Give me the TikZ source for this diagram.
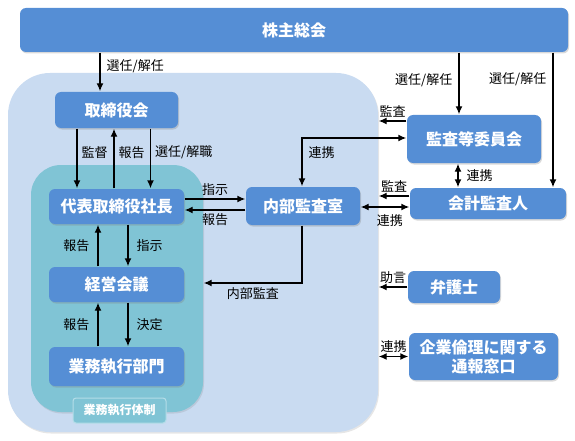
\documentclass[tikz,border=0pt]{standalone}
\usepackage{fontspec}
\setmainfont{Noto Sans CJK JP}
\usetikzlibrary{arrows.meta,shadows}
\definecolor{boxblue}{HTML}{558ED5}
\definecolor{areablue}{HTML}{C9DBF1}
\definecolor{areateal}{HTML}{80C4D5}
\definecolor{tagline}{HTML}{B4DDE8}
\tikzset{
  orgnode/.style = {align=center, inner sep=0pt, text centered,
    font=\bfseries\fontsize{16}{19}\selectfont},
  org_box/.style = {orgnode, rectangle, rounded corners=6pt, fill=boxblue, text=white,
    drop shadow={shadow xshift=1pt, shadow yshift=-1.5pt, opacity=.3}},% blue box
  org_area/.style = {rectangle, inner sep=0pt,
    drop shadow={shadow xshift=1pt, shadow yshift=-1.5pt, opacity=.2}},% background area
  org_tag/.style = {orgnode, rectangle, rounded corners=3pt, fill=areateal, draw=tagline,
    line width=1pt, text=white, font=\bfseries\fontsize{12}{14}\selectfont,
    minimum width=93pt, minimum height=25pt},% area caption
  org_lbl/.style = {inner sep=2pt, font=\fontsize{13}{15}\selectfont}% connector label
}
\begin{document}
\begin{tikzpicture}[x=1pt,y=-1pt,>={Latex[length=8pt,width=7pt]},line width=1.4pt]
  \useasboundingbox (0,0) rectangle (575,441);
  \node [org_area, fill=areablue, minimum width=370pt, minimum height=359pt,
    rounded corners=42pt] (outer) at (193,252.5) {};
  \node [org_area, fill=areateal, minimum width=172pt, minimum height=247pt,
    rounded corners=30pt] (taisei) at (117,288.5) {};
  \node [org_tag] (taisei_tag) at (119.5,410.5) {業務執行体制};

  \node [org_box, minimum width=548pt, minimum height=44pt] (soukai) at (294,30) {株主総会};
  \node [org_box, minimum width=123pt, minimum height=36pt] (torishimari) at (116.5,110) {取締役会};
  \node [org_box, minimum width=135pt, minimum height=35pt] (daihyo) at (116.5,206.5) {代表取締役社長};
  \node [org_box, minimum width=135pt, minimum height=35pt] (keiei) at (116.5,284.5) {経営会議};
  \node [org_box, minimum width=135pt, minimum height=39pt] (gyomu) at (116.5,366.5) {業務執行部門};
  \node [org_box, minimum width=114pt, minimum height=38pt] (naibu) at (303,206) {内部監査室};
  \node [org_box, minimum width=134pt, minimum height=48pt] (kansa) at (474,139) {監査等委員会};
  \node [org_box, minimum width=156pt, minimum height=31pt] (kaikei) at (488,203.5) {会計監査人};
  \node [org_box, minimum width=92pt, minimum height=32pt] (bengo) at (454,287) {弁護士};
  \node [org_box, minimum width=149pt, minimum height=47pt] (tsuho) at (483.5,356.5) {企業倫理に関する\\通報窓口};

  % 株主総会から
  \draw [->] ([xshift=-16.5pt]torishimari.north |- soukai.south) -- ([xshift=-16.5pt]torishimari.north)
    node [org_lbl, pos=.35, right=4pt] (l_sen1) {選任/解任};
  \draw [->] ([xshift=-15pt]kansa.north |- soukai.south) -- ([xshift=-15pt]kansa.north)
    node [org_lbl, pos=.44, left=4pt] (l_sen2) {選任/解任};
  \draw [->] ([xshift=65pt]kaikei.north |- soukai.south) -- ([xshift=65pt]kaikei.north)
    node [org_lbl, pos=.2, left=4pt] (l_sen3) {選任/解任};

  % 取締役会と代表取締役社長
  \draw [->] ([xshift=-39.5pt]torishimari.south) -- ([xshift=-39.5pt]torishimari.south |- daihyo.north)
    node [org_lbl, pos=.4, right=2pt] (l_kantoku) {監督};
  \draw [->] ([xshift=-2.5pt]daihyo.north) -- ([xshift=-2.5pt]daihyo.north |- torishimari.south)
    node [org_lbl, pos=.6, right=2pt] (l_hok1) {報告};
  \draw [->] ([xshift=34pt]torishimari.south) -- ([xshift=34pt]torishimari.south |- daihyo.north)
    node [org_lbl, pos=.4, right=2pt] (l_kaishoku) {選任/解職};

  % 代表取締役社長と内部監査室
  \draw [->] ([yshift=7.5pt]daihyo.east) -- ([yshift=7.5pt]daihyo.east -| naibu.west)
    node [org_lbl, midway, above=1pt] (l_shiji1) {指示};
  \draw [->] ([yshift=-4pt]naibu.west) -- ([yshift=-4pt]naibu.west -| daihyo.east)
    node [org_lbl, midway, below=1pt] (l_hok2) {報告};

  % 業務執行体制の中
  \draw [->] ([xshift=11.5pt]daihyo.south) -- ([xshift=11.5pt]daihyo.south |- keiei.north)
    node [org_lbl, midway, right=6pt] (l_shiji2) {指示};
  \draw [->] ([xshift=-18.5pt]keiei.north) -- ([xshift=-18.5pt]keiei.north |- daihyo.south)
    node [org_lbl, midway, left=6pt] (l_hok3) {報告};
  \draw [->] ([xshift=11.5pt]keiei.south) -- ([xshift=11.5pt]keiei.south |- gyomu.north)
    node [org_lbl, midway, right=6pt] (l_kettei) {決定};
  \draw [->] ([xshift=-18.5pt]gyomu.north) -- ([xshift=-18.5pt]gyomu.north |- keiei.south)
    node [org_lbl, midway, left=6pt] (l_hok4) {報告};

  % 内部監査
  \draw [->] ([xshift=-1pt]naibu.south) |- ([yshift=5.5pt]taisei.east)
    node [org_lbl, pos=.75, below=2pt] (l_naibu) {内部監査};
  \draw [<->] ([yshift=1pt]kansa.west) -| ([xshift=-1pt]naibu.north)
    node [org_lbl, pos=.65, right=4pt] (l_renkei1) {連携};

  % 外部との関係
  \draw [->] ([yshift=18pt]kansa.west) -- ([yshift=18pt]kansa.west -| outer.east)
    node [org_lbl, midway, above=1pt] (l_kansa1) {監査};
  \draw [<->] ([xshift=-16pt]kansa.south) -- ([xshift=-16pt]kansa.south |- kaikei.north)
    node [org_lbl, midway, right=6pt] (l_renkei2) {連携};
  \draw [->] ([yshift=7.5pt]kaikei.west) -- ([yshift=7.5pt]kaikei.west -| outer.east)
    node [org_lbl, midway, above=1pt] (l_kansa2) {監査};
  \draw [<->] ([yshift=-3.5pt]kaikei.west -| naibu.east) -- ([yshift=-3.5pt]kaikei.west)
    node [org_lbl, pos=.6, below=5pt] (l_renkei3) {連携};
  \draw [->] (bengo.west) -- (bengo.west -| outer.east)
    node [org_lbl, midway, above=1pt] (l_jogen) {助言};
  \draw [<->] (tsuho.west) -- (tsuho.west -| outer.east)
    node [org_lbl, midway, above=1pt] (l_renkei4) {連携};
\end{tikzpicture}
\end{document}
